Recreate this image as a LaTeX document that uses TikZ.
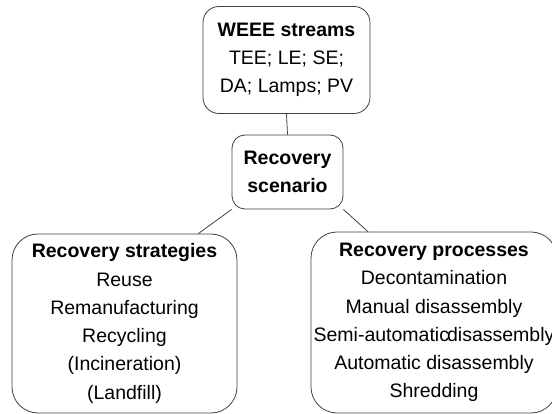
\documentclass[tikz,border=0pt]{standalone}
\usepackage{fontspec}
\setmainfont{Liberation Sans}
\usetikzlibrary{calc}
\begin{document}
\begin{tikzpicture}[x=1pt,y=-1pt,
  box/.style={draw=black!75, line width=0.8pt, fill=white, align=center,
    font=\fontsize{19.5}{28.3}\selectfont, inner sep=0pt},
  link/.style={draw=black!75, line width=0.8pt}]
\useasboundingbox (0,0) rectangle (552,414);
\clip (0,0) rectangle (552,414);
\node[box, rounded corners=16pt, minimum width=167pt, minimum height=107pt] (weee) at (286.5,60)
  {\textbf{WEEE streams}\\TEE; LE; SE;\\DA; Lamps; PV};
\node[box, rounded corners=13pt, minimum width=111pt, minimum height=74pt] (scen) at (287.5,172)
  {\fontsize{19.5}{31}\selectfont\textbf{Recovery}\\\textbf{scenario}};
\node[box, rounded corners=26pt, minimum width=225pt, minimum height=179pt] (strat) at (124.5,323.5)
  {\textbf{Recovery strategies}\\Reuse\\Remanufacturing\\Recycling\\(Incineration)\\(Landfill)};
\node[box, rounded corners=26pt, minimum width=246pt, minimum height=181pt] (proc) at (434,322.5)
  {\textbf{Recovery processes}\\Decontamination\\Manual disassembly\\Semi-automatic\kern-2pt disassembly\\Automatic disassembly\\Shredding};
\draw[link] (weee.south) -- (scen.north);
\draw[link] (scen.south west) -- ($(strat.north west)!0.827!(strat.north east)$);
\draw[link] (scen.south east) -- ($(proc.north west)!0.232!(proc.north east)$);
\end{tikzpicture}
\end{document}
